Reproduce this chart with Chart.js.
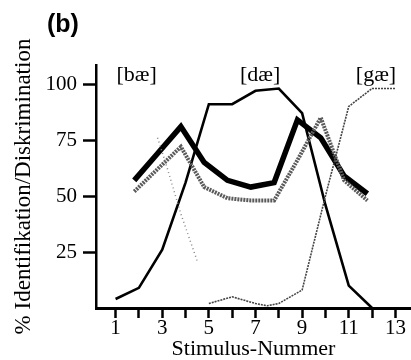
<!DOCTYPE html>
<html><head><meta charset="utf-8">
<script src="https://cdn.jsdelivr.net/npm/chart.js@4.4.1/dist/chart.umd.min.js"></script>
<style>html,body{margin:0;padding:0;background:#fff;overflow:hidden}</style>
</head><body>
<canvas id="c" width="411" height="360"></canvas>
<script>
// ---- data ----
const stimulusNumbers = [1,2,3,4,5,6,7,8,9,10,11,12];
const daeIdentification = [4, 9, 26, 56, 91, 91, 97, 98, 87, 46, 10, 0];
const discriminationPositions = [1.8,2.8,3.8,4.8,5.8,6.8,7.8,8.8,9.8,10.8,11.8];
const discriminationObserved = [57,69,81,65,57,54,56,84,76,59,51];
const discriminationPredicted = [52,62,72,54,49,48,48,66,85,57,48];
const baePositions = [2.8,3.2,3.8,4.5];
const baeIdentification = [76,63,42,21];
const gaePositions = [5,6,7,7.5,8,9,10,11,12,13];
const gaeIdentification = [2,5,2,1,2,8,50,90,98,98];
const xTickValues = [1,2,3,4,5,6,7,8,9,10,11,12,13];
const xTickLabels = ['1','','3','','5','','7','','9','','11','','13'];
const yTickValues = [25,50,75,100];
const syllableLabels = ['[bæ]','[dæ]','[gæ]'];
const syllableAnchors = [1.9, 7.2, 12.17];
const panelLabel = '(b)';
const xTitle = 'Stimulus-Nummer';
const yTitle = '% Identifikation/Diskrimination';

const pts = (xs, ys) => xs.map((x, i) => ({x, y: ys[i]}));
const SERIF = '"Liberation Serif", "DejaVu Serif", serif';

const textPlugin = {
  id: 'extraText',
  afterDraw(chart) {
    const {ctx, scales} = chart;
    ctx.save();
    ctx.fillStyle = '#000';
    ctx.font = 'bold 25px "Liberation Sans", Arial, sans-serif';
    ctx.textAlign = 'left';
    ctx.textBaseline = 'middle';
    ctx.fillText(panelLabel, 47, 25);
    ctx.font = '22px ' + SERIF;
    ctx.textAlign = 'center';
    syllableLabels.forEach((t, i) => {
      ctx.fillText(t, scales.x.getPixelForValue(syllableAnchors[i]), scales.y.getPixelForValue(104));
    });
    ctx.restore();
  }
};

new Chart(document.getElementById('c'), {
  type: 'line',
  data: {
    datasets: [
      { data: pts(baePositions, baeIdentification), borderColor: '#888', borderWidth: 1.5, borderDash: [1,3] },
      { data: pts(gaePositions, gaeIdentification), borderColor: '#444', borderWidth: 1.6, borderDash: [2,1] },
      { data: pts(discriminationPositions, discriminationPredicted), borderColor: '#5a5a5a', borderWidth: 4, borderDash: [2,1] },
      { data: pts(stimulusNumbers, daeIdentification), borderColor: '#000', borderWidth: 2.6 },
      { data: pts(discriminationPositions, discriminationObserved), borderColor: '#000', borderWidth: 5.5 }
    ]
  },
  options: {
    responsive: false,
    animation: false,
    devicePixelRatio: 1,
    layout: { padding: { top: 65, left: 0, right: 0, bottom: 0 } },
    elements: { point: { radius: 0 }, line: { tension: 0, borderJoinStyle: 'miter', borderCapStyle: 'butt' } },
    plugins: { legend: { display: false }, tooltip: { enabled: false } },
    scales: {
      x: {
        type: 'linear', min: 0.16, max: 13.67,
        afterFit: s => { s.height = 52; },
        afterBuildTicks: s => { s.ticks = xTickValues.map(v => ({value: v})); },
        border: { color: '#000', width: 3 },
        grid: { drawOnChartArea: false, drawTicks: true, tickLength: 10, tickColor: '#000', tickWidth: 2.5, color: '#000' },
        ticks: { autoSkip: false, maxRotation: 0, padding: -2, color: '#000', font: { family: SERIF, size: 21 },
          callback: (v) => { const i = xTickValues.indexOf(v); return i >= 0 ? xTickLabels[i] : ''; } },
        title: { display: true, text: xTitle, color: '#000', font: { family: SERIF, size: 22, lineHeight: 1 }, padding: { top: 0, bottom: 0 } }
      },
      y: {
        type: 'linear', min: 0, max: 108.5,
        afterFit: s => { s.width = 96; },
        afterBuildTicks: s => { s.ticks = yTickValues.map(v => ({value: v})); },
        border: { color: '#000', width: 2.5 },
        grid: { drawOnChartArea: false, drawTicks: true, tickLength: 13, tickColor: '#000', tickWidth: 2.5, color: '#000' },
        ticks: { padding: 6, color: '#000', font: { family: SERIF, size: 21 } },
        title: { display: true, text: yTitle, color: '#000', font: { family: SERIF, size: 23, lineHeight: 1 }, padding: { top: 12, bottom: 0 } }
      }
    }
  },
  plugins: [textPlugin]
});
</script>
</body></html>
